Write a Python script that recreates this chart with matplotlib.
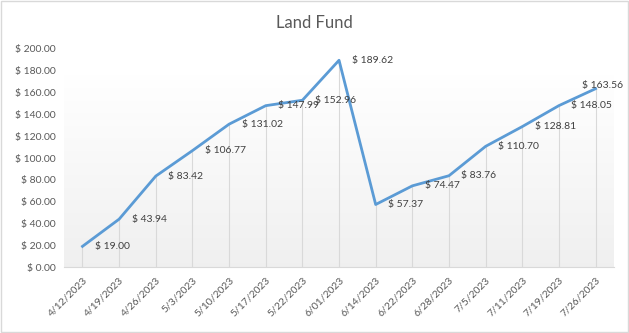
import numpy as np
import matplotlib
matplotlib.use("Agg")
import matplotlib.pyplot as plt

dates = ["4/12/2023", "4/19/2023", "4/26/2023", "5/3/2023", "5/10/2023",
         "5/17/2023", "5/22/2023", "6/01/2023", "6/14/2023", "6/22/2023",
         "6/28/2023", "7/5/2023", "7/11/2023", "7/19/2023", "7/26/2023"]
values = [19.00, 43.94, 83.42, 106.77, 131.02, 147.99, 152.96, 189.62,
          57.37, 74.47, 83.76, 110.70, 128.81, 148.05, 163.56]
yticks = [0, 20, 40, 60, 80, 100, 120, 140, 160, 180, 200]

plt.rcParams['font.family'] = ['Lato', 'DejaVu Sans']

fig = plt.figure(figsize=(6.29, 3.33), dpi=100)
# chart border
fig.patches.append(plt.Rectangle((0.001, 0.002), 0.997, 0.995, transform=fig.transFigure,
                                 fill=False, edgecolor="#d9d9d9", linewidth=1))
ax = fig.add_axes([0.102, 0.198, 0.874, 0.655])

x = np.arange(len(dates))

# gradient plot-area fill: white near top, light gray toward bottom
yy = np.linspace(200, 0, 200)
shade = np.clip((175 - yy) / 175, 0, 1)
top, bot = np.array([1.0, 1.0, 1.0]), np.array([0.94, 0.94, 0.94])
grad = top[None, :] * (1 - shade[:, None]) + bot[None, :] * shade[:, None]
ax.imshow(grad[:, None, :], extent=(-0.5, len(dates) - 0.5, 0, 200),
          aspect="auto", zorder=0, interpolation="bilinear")

# drop lines
ax.vlines(x, 0, values, color="#d9d9d9", linewidth=0.8, zorder=1)

ax.plot(x, values, color="#5b9bd5", linewidth=2, zorder=3)

for i, (xi, v) in enumerate(zip(x, values)):
    if i == len(values) - 1:
        # last label gets pushed back inside the chart
        ax.annotate(f"$ {v:.2f}", (xi, v), xytext=(5, 2), textcoords="offset points",
                    ha="center", va="center", fontsize=7.5, color="#404040", zorder=4)
    else:
        ax.annotate(f"$ {v:.2f}", (xi, v), xytext=(9, 0), textcoords="offset points",
                    ha="left", va="center", fontsize=7.5, color="#404040", zorder=4)

ax.set_xlim(-0.5, len(dates) - 0.5)
ax.set_ylim(0, 200)
ax.set_yticks(yticks)
ax.set_yticklabels([f"$ {t:.2f}" for t in yticks])
ax.set_xticks(x)
ax.set_xticklabels(dates, rotation=45, ha="right", rotation_mode="anchor")
ax.tick_params(axis="both", length=0, labelsize=7.5, labelcolor="#595959")
ax.tick_params(axis="y", pad=6)
ax.tick_params(axis="x", pad=6)

for s in ["top", "right", "left"]:
    ax.spines[s].set_visible(False)
ax.spines["bottom"].set_color("#d9d9d9")

fig.text(0.5, 0.93, "Land Fund", ha="center", va="center", fontsize=12, color="#595959")

fig.savefig("out.png", dpi=100)
